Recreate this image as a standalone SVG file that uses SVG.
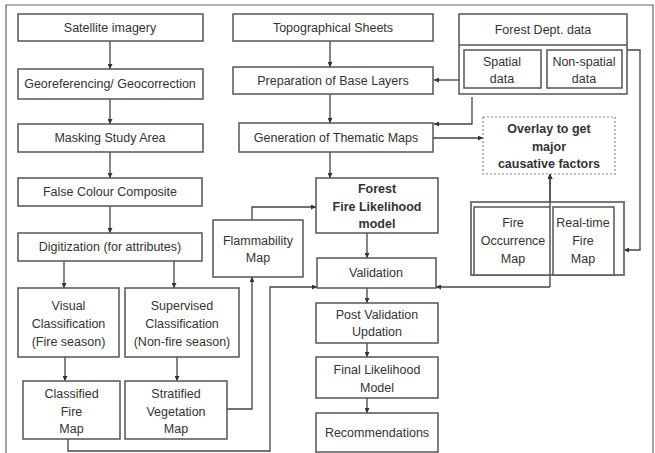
<svg xmlns="http://www.w3.org/2000/svg" width="655" height="453" viewBox="0 0 655 453">
<defs>
<marker id="ah" viewBox="0 0 10 10" refX="10" refY="5" markerWidth="5" markerHeight="5" orient="auto" markerUnits="userSpaceOnUse">
<path d="M0,0 L10,5 L0,10 z" fill="#333"/>
</marker>
<style>
.b{fill:#fff;stroke:#555;stroke-width:1.5}
.d{fill:#fff;stroke:#888;stroke-width:1.2;stroke-dasharray:2,2}
.t{font-family:"Liberation Sans",Arial,sans-serif;font-size:12.5px;fill:#333;text-anchor:middle}
.tb{font-weight:bold}
.c{fill:none;stroke:#444;stroke-width:1.3}
.a{marker-end:url(#ah)}
</style>
</defs>
<rect width="655" height="453" fill="#fff"/>
<path d="M6,453 V5 H653 V453" fill="none" stroke="#666" stroke-width="1.2"/>

<g id="connectors">
<path class="c a" d="M110,41 V69"/>
<path class="c a" d="M110,99 V124"/>
<path class="c a" d="M110,152 V178"/>
<path class="c a" d="M110,206 V233"/>
<path class="c a" d="M64,261 V288"/>
<path class="c a" d="M174,261 V288"/>
<path class="c a" d="M65,357 V381"/>
<path class="c a" d="M177,357 V381"/>
<path class="c a" d="M330,41 V67"/>
<path class="c a" d="M330,94 V123"/>
<path class="c a" d="M330,152 V178"/>
<path class="c a" d="M459,80 H434"/>
<path class="c a" d="M472,97 V124 H434"/>
<path class="c a" d="M433,138 H483"/>
<path class="c a" d="M627,50 H640 V250 H624"/>
<path class="c a" d="M550,287 V174"/>
<path class="c a" d="M550,287 H436"/>
<path class="c a" d="M227,409 H252 V277"/>
<path class="c a" d="M252,220 V207 H316"/>
<path class="c a" d="M68,439 V451 H270 V287 H317"/>
<path class="c a" d="M367,233 V258"/>
<path class="c a" d="M367,288 V303"/>
<path class="c a" d="M367,343 V357"/>
<path class="c a" d="M367,398 V413"/>
</g>

<g id="satellite"><rect class="b" x="18" y="14" width="185" height="27"/><text class="t" x="110" y="32">Satellite imagery</text></g>
<g id="georef"><rect class="b" x="18" y="69" width="185" height="30"/><text class="t" x="110" y="88">Georeferencing/ Geocorrection</text></g>
<g id="masking"><rect class="b" x="18" y="124" width="185" height="28"/><text class="t" x="110" y="142">Masking Study Area</text></g>
<g id="fcc"><rect class="b" x="18" y="178" width="184" height="28"/><text class="t" x="110" y="196">False Colour Composite</text></g>
<g id="digitization"><rect class="b" x="18" y="233" width="184" height="28"/><text class="t" x="110" y="251">Digitization (for attributes)</text></g>
<g id="visual"><rect class="b" x="18" y="288" width="101" height="69"/><text class="t" x="68.5" y="310">Visual</text><text class="t" x="68.5" y="328">Classification</text><text class="t" x="68.5" y="346">(Fire season)</text></g>
<g id="supervised"><rect class="b" x="125" y="288" width="114" height="69"/><text class="t" x="182" y="310">Supervised</text><text class="t" x="182" y="328">Classification</text><text class="t" x="182" y="346">(Non-fire season)</text></g>
<g id="classified"><rect class="b" x="23" y="381" width="97" height="58"/><text class="t" x="71.5" y="398">Classified</text><text class="t" x="71.5" y="416">Fire</text><text class="t" x="71.5" y="433">Map</text></g>
<g id="stratified"><rect class="b" x="125" y="381" width="102" height="58"/><text class="t" x="176" y="398">Stratified</text><text class="t" x="176" y="416">Vegetation</text><text class="t" x="176" y="433">Map</text></g>

<g id="topo"><rect class="b" x="233" y="14" width="200" height="27"/><text class="t" x="333" y="32">Topographical Sheets</text></g>
<g id="base"><rect class="b" x="233" y="67" width="200" height="27"/><text class="t" x="333" y="85">Preparation of Base Layers</text></g>
<g id="thematic"><rect class="b" x="239" y="123" width="194" height="29"/><text class="t" x="336" y="142">Generation of Thematic Maps</text></g>
<g id="flammability"><rect class="b" x="213" y="220" width="90" height="57"/><text class="t" x="258" y="245">Flammability</text><text class="t" x="258" y="262">Map</text></g>
<g id="model"><rect class="b" x="316" y="178" width="122" height="55"/><text class="t tb" x="377" y="193">Forest</text><text class="t tb" x="377" y="211">Fire Likelihood</text><text class="t tb" x="377" y="228">model</text></g>
<g id="validation"><rect class="b" x="317" y="258" width="119" height="30"/><text class="t" x="376" y="277">Validation</text></g>
<g id="postval"><rect class="b" x="316" y="303" width="122" height="40"/><text class="t" x="377" y="319">Post Validation</text><text class="t" x="377" y="336">Updation</text></g>
<g id="final"><rect class="b" x="316" y="357" width="122" height="41"/><text class="t" x="377" y="374">Final Likelihood</text><text class="t" x="377" y="392">Model</text></g>
<g id="recommend"><rect class="b" x="316" y="413" width="122" height="39"/><text class="t" x="377" y="437">Recommendations</text></g>

<g id="forestdept"><rect class="b" x="459" y="14" width="168" height="80"/><line x1="459" y1="45" x2="627" y2="45" stroke="#555" stroke-width="1.5"/><text class="t" x="543" y="34">Forest Dept. data</text>
<rect class="b" x="464" y="50" width="77" height="38"/><text class="t" x="502" y="66">Spatial</text><text class="t" x="502" y="83">data</text>
<rect class="b" x="547" y="50" width="75" height="38"/><text class="t" x="584" y="66">Non-spatial</text><text class="t" x="584" y="83">data</text></g>
<g id="overlay"><rect class="d" x="483" y="117" width="132" height="57"/><text class="t tb" x="549" y="133">Overlay to get</text><text class="t tb" x="549" y="151">major</text><text class="t tb" x="549" y="168">causative factors</text></g>
<g id="firemaps"><rect x="471" y="202" width="153" height="73" fill="#fff" stroke="#777" stroke-width="2"/>
<rect class="b" x="474" y="207" width="76" height="68"/><text class="t" x="513" y="227">Fire</text><text class="t" x="513" y="245">Occurrence</text><text class="t" x="513" y="263">Map</text>
<rect class="b" x="553" y="207" width="61" height="68"/><text class="t" x="583" y="227">Real-time</text><text class="t" x="583" y="245">Fire</text><text class="t" x="583" y="263">Map</text>
<line x1="550" y1="207" x2="550" y2="174" stroke="#444" stroke-width="1.3" marker-end="url(#ah)"/></g>
</svg>
